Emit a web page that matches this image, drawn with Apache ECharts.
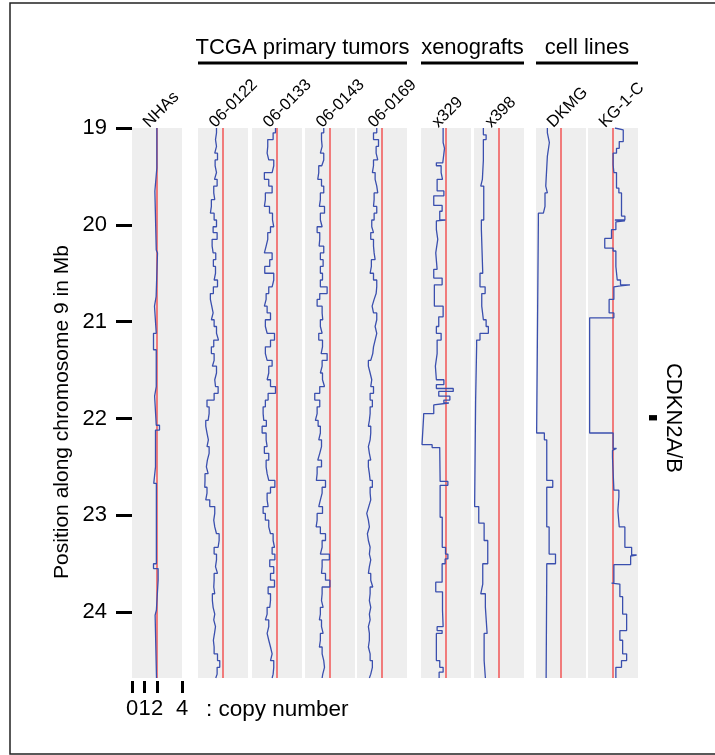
<!DOCTYPE html>
<html lang="en">
<head>
    <meta charset="UTF-8">
    <title>CDKN2A/B copy number</title>
    <script src="https://cdn.jsdelivr.net/npm/echarts@6/dist/echarts.min.js"></script>
    <style>
        html, body { margin: 0; padding: 0; background: #fff; }
    </style>
</head>
<body>
<div id="main" style="width: 715px;height:755px;"></div>

<script type="text/javascript">
    // chromosome 9 window (Mb) and scales
    var yMin = 19, yMax = 24.68;
    var posTicks = [19, 20, 21, 22, 23, 24];
    var cnTicks = [0, 1, 2, 4];
    var cnRef = 2;

    var sampleNames = ['NHAs', '06-0122', '06-0133', '06-0143', '06-0169', 'x329', 'x398', 'DKMG', 'KG-1-C'];
    var groupNames = ['TCGA primary tumors', 'xenografts', 'cell lines'];
    var geneName = 'CDKN2A/B';
    var geneRange = [21.965, 22.02];

    // shared probe bins of the TCGA array samples (segment start, Mb)
    var tcgaBins = [19.00,19.05,19.12,19.19,19.26,19.33,19.39,19.46,19.53,19.60,19.67,19.74,19.81,19.88,19.95,20.02,20.08,20.15,20.22,20.29,
        20.36,20.43,20.50,20.57,20.64,20.71,20.77,20.84,20.91,20.98,21.05,21.12,21.19,21.26,21.33,21.40,21.46,21.53,21.60,21.67,21.74,
        21.81,21.88,21.95,22.02,22.08,22.15,22.22,22.29,22.36,22.43,22.50,22.57,22.64,22.71,22.77,22.84,22.91,22.98,23.05,23.12,
        23.19,23.26,23.33,23.40,23.46,23.53,23.60,23.67,23.74,23.81,23.88,23.95,24.02,24.08,24.15,24.22,24.29,24.36,24.43,24.50,24.57,24.64];

    var cn0122 = [1.48,1.40,1.48,1.34,1.56,1.37,1.48,1.32,1.53,1.26,1.34,1.07,0.99,1.29,1.48,1.21,1.53,1.13,1.21,1.42,
        1.23,1.40,1.29,1.56,1.23,0.99,1.10,1.21,1.07,1.29,1.48,1.64,1.26,1.07,1.29,1.15,1.48,1.34,1.40,1.61,1.29,
        0.72,0.89,0.81,0.62,0.72,0.83,0.72,0.89,0.75,0.67,0.81,0.56,0.54,0.72,0.62,0.94,1.34,1.26,1.34,1.48,
        1.69,1.61,1.29,1.48,1.40,1.56,1.29,1.26,1.34,1.15,1.21,1.34,1.26,1.40,1.32,1.23,1.29,1.29,1.56,1.74,1.53,1.42];
    var cn0133 = [1.88,1.69,1.26,1.21,1.34,1.74,1.61,0.99,1.34,1.61,1.07,0.99,1.40,1.64,1.74,1.48,1.26,1.13,0.99,1.61,
        1.42,1.02,1.74,1.61,1.34,1.13,0.99,1.21,1.48,1.07,1.21,1.80,1.48,1.07,1.21,1.61,1.34,1.21,1.48,1.88,1.29,
        1.07,0.89,0.94,1.15,0.81,1.13,1.21,0.99,1.34,1.13,1.21,1.34,1.83,1.48,1.21,1.29,0.89,1.07,1.34,1.48,
        1.69,1.80,1.61,1.83,1.42,1.74,1.48,1.80,1.29,1.48,1.42,1.21,1.07,1.34,1.21,1.34,1.48,1.61,1.48,1.74,1.69,1.61];
    var cn0143 = [1.50,1.32,1.37,1.23,1.50,1.34,1.10,1.02,1.32,1.50,1.23,1.15,1.56,1.23,1.37,0.97,1.18,1.13,1.50,1.23,
        1.45,1.23,1.40,1.23,1.77,1.18,0.97,1.37,1.42,1.23,1.37,1.10,1.40,1.29,1.77,1.37,1.23,1.40,1.56,1.18,0.78,
        1.18,0.97,0.83,1.05,1.23,1.10,1.32,1.18,1.02,1.32,0.97,0.91,1.64,1.37,1.23,1.10,1.40,0.97,0.89,1.23,
        1.64,1.37,1.23,1.95,1.37,1.32,1.64,1.99,1.37,1.32,1.45,1.23,1.15,1.32,1.45,1.23,1.15,1.37,1.50,1.56,1.42,1.37];
    var cn0169 = [1.58,1.32,1.72,1.53,1.66,1.32,1.23,1.45,1.58,1.66,1.37,1.32,1.58,1.37,1.18,1.32,1.10,1.32,1.37,1.45,
        1.15,1.05,1.32,1.58,1.53,1.37,1.21,1.32,1.58,1.45,1.58,1.45,1.32,1.26,1.10,0.91,1.05,1.18,1.10,1.32,1.05,
        1.23,1.05,0.99,0.91,1.10,1.05,0.91,0.99,1.10,0.91,0.99,1.05,1.23,1.05,1.10,0.94,0.78,0.91,0.99,0.83,
        0.91,1.05,0.99,1.10,0.99,0.91,1.10,1.26,1.05,0.99,1.10,0.99,1.05,0.91,0.99,0.99,0.91,1.05,1.05,1.23,1.10,0.99];

    // segmented samples: segment start (Mb) and copy number
    var nhaStart = [19.00,19.41,19.65,20.26,20.29,20.74,20.84,21.12,21.29,21.67,21.77,22.07,22.12,22.50,22.67,23.50,23.55,23.67,23.98,24.03];
    var nhaCN    = [1.99,1.83,1.94,2.04,1.93,1.80,1.94,1.72,1.94,1.81,1.94,2.20,1.88,1.74,1.95,1.72,2.09,1.95,1.85,1.96];

    var x329Start = [19.00,19.15,19.21,19.36,19.39,19.46,19.53,19.65,19.70,19.80,19.86,19.95,19.96,20.05,20.15,20.29,20.46,20.55,20.62,20.84,
        20.95,21.05,21.12,21.19,21.33,21.46,21.60,21.65,21.69,21.72,21.77,21.81,21.84,21.86,21.95,21.98,22.27,22.30,22.33,22.65,
        22.69,23.02,23.33,23.40,23.45,23.50,23.69,23.79,23.98,24.15,24.19,24.22,24.50,24.57,24.62];
    var x329CN = [1.77,1.88,1.74,1.23,1.61,1.72,1.29,1.83,1.02,1.69,1.50,1.96,1.23,1.34,1.18,1.29,1.02,1.69,1.07,1.77,
        1.42,1.23,1.61,1.29,1.15,1.23,1.83,1.23,2.58,1.42,2.31,1.83,2.23,1.02,0.21,0.08,0.89,1.50,1.53,2.15,
        1.53,1.70,1.96,2.15,1.93,1.69,1.18,1.72,1.77,1.29,1.69,1.23,1.50,1.77,1.45];

    var x398Start = [19.00,19.07,19.12,19.33,19.53,19.60,19.95,20.05,20.50,20.64,20.71,20.84,20.98,21.05,21.12,21.19,21.26,21.81,22.91,23.08,
        23.26,23.50,23.71,23.81,23.95,24.22,24.50];
    var x398CN = [0.75,0.97,0.75,0.67,0.54,0.78,0.59,0.70,0.48,0.89,0.62,0.75,0.97,1.15,0.48,0.21,0.13,0.05,0.38,0.81,
        1.10,0.70,0.54,0.91,1.05,0.81,0.91];

    var dkmgStart = [19.00,19.05,19.15,19.29,19.60,19.67,19.81,19.88,19.95,22.15,22.22,22.64,22.71,23.12,23.40,23.50,23.60];
    var dkmgCN    = [0.91,1.07,0.91,0.78,0.91,0.72,0.59,0.19,0.05,0.67,0.86,1.34,0.86,1.05,1.56,0.86,0.81];

    var kgStart = [19.00,19.02,19.14,19.21,19.26,19.38,19.46,19.62,19.67,19.91,19.95,19.96,19.97,20.05,20.14,20.24,20.27,20.43,20.57,20.62,
        20.63,20.64,20.77,20.91,20.96,22.15,22.31,22.33,22.40,22.74,22.81,22.95,23.12,23.33,23.41,23.42,23.51,23.70,23.71,23.84,
        24.02,24.19,24.29,24.43,24.50,24.57];
    var kgCN = [2.15,2.82,2.50,2.28,2.01,2.07,2.28,2.47,2.68,2.95,2.15,2.95,2.23,1.88,1.34,2.01,2.23,2.34,2.60,3.36,
        2.60,2.07,1.69,2.07,0.13,2.01,2.28,1.96,2.07,2.47,2.39,2.50,2.95,3.49,3.89,3.41,2.07,1.88,2.55,2.77,
        3.09,2.55,2.77,3.09,2.68,2.23];

    var sampleStarts = [nhaStart, tcgaBins, tcgaBins, tcgaBins, tcgaBins, x329Start, x398Start, dkmgStart, kgStart];
    var sampleCN = [nhaCN, cn0122, cn0133, cn0143, cn0169, x329CN, x398CN, dkmgCN, kgCN];

    // layout (pixels)
    var panelLeft = [132, 198, 252, 305, 357, 421, 474, 536, 588];
    var panelW = 50, panelTop = 128, panelH = 550;
    var font = 'Liberation Sans, Arial, Helvetica, sans-serif';
    var blue = '#3a4fae', red = '#f15e5e';

    // segments -> step path (copy number on x, position on y)
    function stepPath(starts, values) {
        var pts = [];
        for (var i = 0; i < starts.length; i++) {
            var end = i + 1 < starts.length ? starts[i + 1] : yMax;
            pts.push([values[i], starts[i]]);
            pts.push([values[i], end]);
        }
        return pts;
    }

    var myChart = echarts.init(document.getElementById('main'));

    var grids = [], xAxes = [], yAxes = [], series = [];
    sampleNames.forEach(function (name, i) {
        grids.push({
            left: panelLeft[i], top: panelTop, width: panelW, height: panelH,
            show: true, backgroundColor: '#eeeeee', borderWidth: 0
        });
        var first = i === 0;
        xAxes.push({
            gridIndex: i, type: 'value', min: 0, max: 4, position: 'bottom', offset: 3,
            show: first,
            axisLine: {show: false}, splitLine: {show: false},
            axisTick: {show: true, customValues: cnTicks, length: 12, lineStyle: {color: '#000', width: 3}},
            axisLabel: {show: true, customValues: cnTicks, fontSize: 22, color: '#000', margin: 17, fontFamily: font}
        });
        yAxes.push({
            gridIndex: i, type: 'value', inverse: true, min: yMin, max: yMax, offset: 3,
            show: first,
            axisLine: {show: false}, splitLine: {show: false},
            axisTick: {show: true, customValues: posTicks, length: 16, lineStyle: {color: '#000', width: 3}},
            axisLabel: {show: true, customValues: posTicks, fontSize: 22, color: '#000', margin: 22, fontFamily: font}
        });
        series.push({
            name: name + ' ref', type: 'line', xAxisIndex: i, yAxisIndex: i,
            data: [[cnRef, yMin], [cnRef, yMax]],
            showSymbol: false, silent: true, z: 1,
            lineStyle: {color: red, width: 1.6}
        });
        series.push({
            name: name, type: 'line', xAxisIndex: i, yAxisIndex: i,
            data: stepPath(sampleStarts[i], sampleCN[i]),
            showSymbol: false, z: 2,
            lineStyle: {color: blue, width: 1.3}
        });
    });

    // gene marker column
    grids.push({left: 649, top: panelTop, width: 8, height: panelH});
    xAxes.push({gridIndex: 9, type: 'value', min: 0, max: 1, show: false});
    yAxes.push({gridIndex: 9, type: 'value', inverse: true, min: yMin, max: yMax, show: false});
    series.push({
        name: geneName, type: 'custom', xAxisIndex: 9, yAxisIndex: 9,
        data: [geneRange],
        renderItem: function (params, api) {
            var p0 = api.coord([0, api.value(0)]);
            var p1 = api.coord([1, api.value(1)]);
            return {type: 'rect', shape: {x: p0[0], y: p0[1], width: p1[0] - p0[0], height: p1[1] - p0[1]}, style: {fill: '#000'}};
        }
    });

    // texts: sample labels, group headers, titles
    var graphics = [];
    graphics.push({type: 'rect', shape: {x: 10, y: 3, width: 712, height: 751}, style: {fill: null, stroke: '#222', lineWidth: 1.5}, silent: true});
    sampleNames.forEach(function (name, i) {
        graphics.push({
            type: 'text', x: panelLeft[i] + panelW / 2 - 5, y: 131, rotation: Math.PI / 4,
            style: {text: name, font: '16.5px ' + font, fill: '#000', align: 'left', verticalAlign: 'bottom'}
        });
    });
    var groupSpan = [[1, 4], [5, 6], [7, 8]];
    groupNames.forEach(function (g, k) {
        var x0 = panelLeft[groupSpan[k][0]], x1 = panelLeft[groupSpan[k][1]] + panelW;
        graphics.push({type: 'text', x: (x0 + x1) / 2, y: 48,
            style: {text: g, font: '22px ' + font, fill: '#000', align: 'center', verticalAlign: 'middle'}});
        graphics.push({type: 'line', shape: {x1: x0, y1: 63, x2: x1, y2: 63}, style: {stroke: '#000', lineWidth: 3}});
    });
    graphics.push({type: 'text', x: 62, y: 412, rotation: Math.PI / 2,
        style: {text: 'Position along chromosome 9 in Mb', font: '21px ' + font, fill: '#000', align: 'center', verticalAlign: 'middle'}});
    graphics.push({type: 'text', x: 673, y: 418, rotation: -Math.PI / 2,
        style: {text: geneName, font: '22px ' + font, fill: '#000', align: 'center', verticalAlign: 'middle'}});
    graphics.push({type: 'text', x: 206, y: 710,
        style: {text: ': copy number', font: '22.5px ' + font, fill: '#000', align: 'left', verticalAlign: 'middle'}});

    var option = {
        animation: false,
        grid: grids,
        xAxis: xAxes,
        yAxis: yAxes,
        series: series,
        graphic: graphics
    };

    myChart.setOption(option);
</script>
</body>
</html>
